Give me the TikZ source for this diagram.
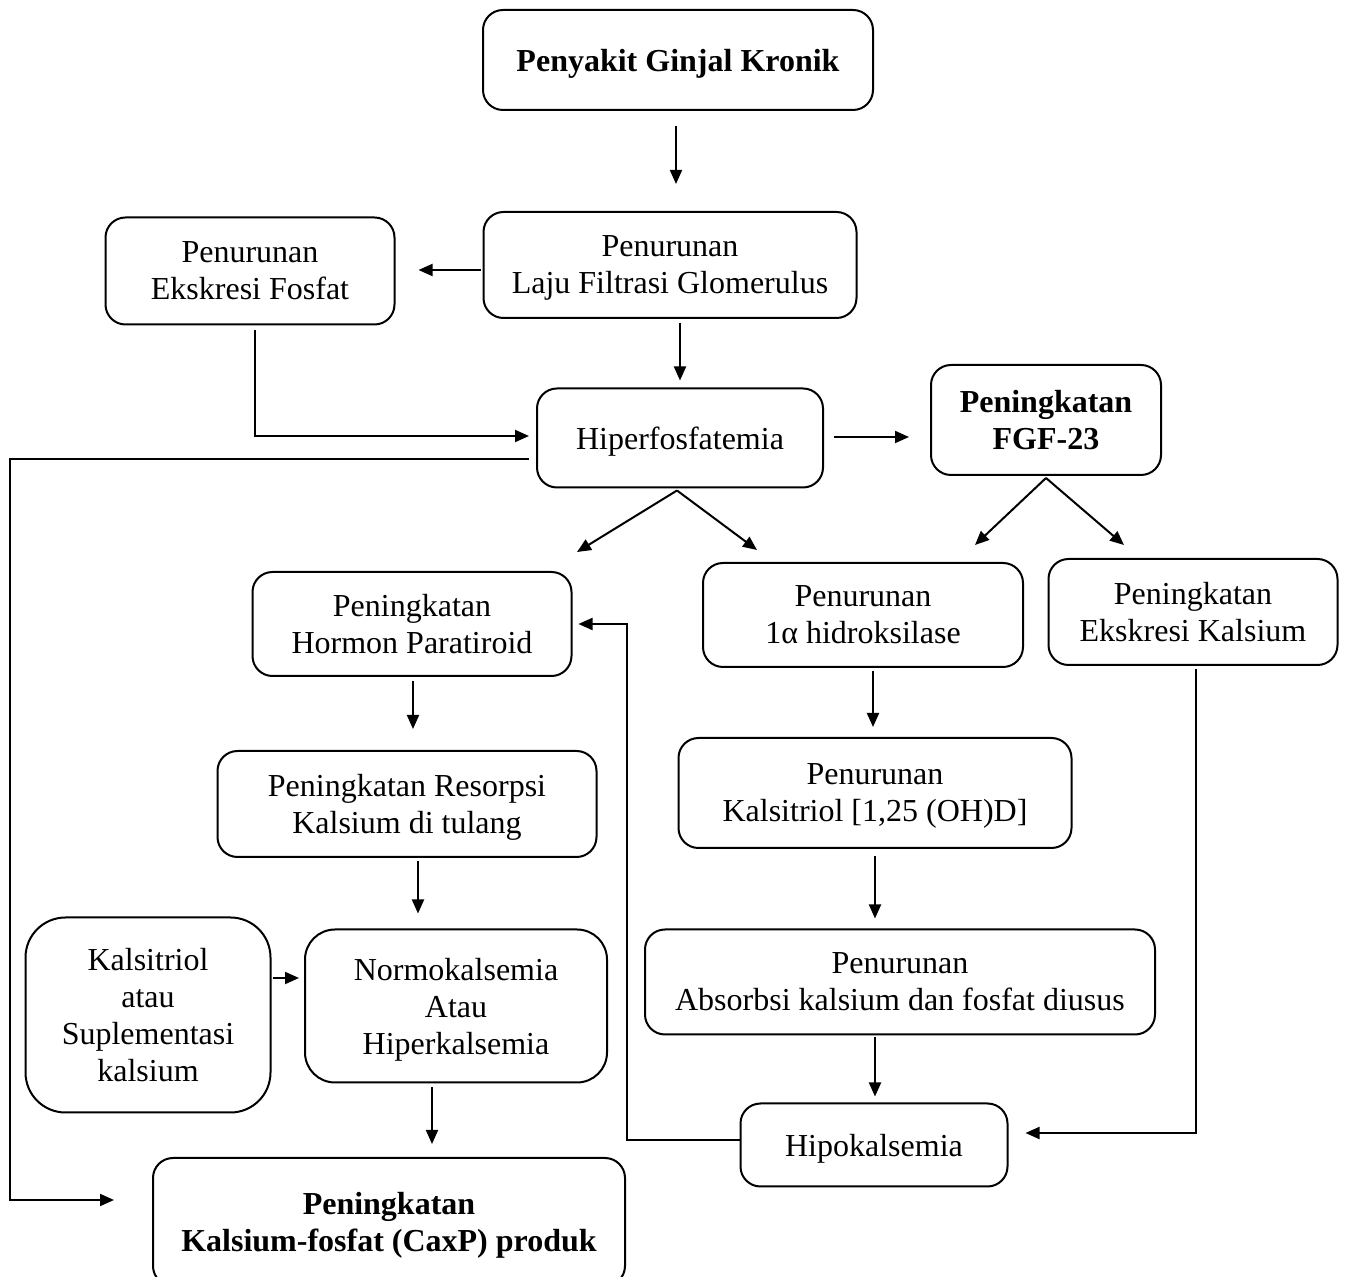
\documentclass[tikz,border=0pt]{standalone}
\usepackage{fontspec}
\setmainfont{Liberation Serif}
\usetikzlibrary{positioning, arrows.meta, calc}
\tikzset{every picture/.append style={thick}}

\begin{document}
\begin{tikzpicture}[x=0.5pt, y=-0.5pt,
    box/.style={draw, line width=1pt, rounded corners=10pt, align=center, inner sep=0pt, text depth=0pt, font=\fontsize{16}{18.5}\selectfont},
    bbox/.style={box, font=\fontsize{16}{18.5}\selectfont\bfseries},
    arr/.style={-{Triangle[length=7pt, width=6pt]}, line width=1pt}]
    \useasboundingbox (0,0) rectangle (1346,1277);

    % Boxes
    \node[bbox, minimum width=195pt, minimum height=50pt] (pgk) at (678,60) {Penyakit Ginjal Kronik};
    \node[box, minimum width=186.5pt, minimum height=53pt] (lfg) at (670,265) {Penurunan\\Laju Filtrasi Glomerulus};
    \node[box, minimum width=144.5pt, minimum height=53.5pt] (ekf) at (250,271) {Penurunan\\Ekskresi Fosfat};
    \node[box, minimum width=143pt, minimum height=49.5pt] (hpf) at (680,438) {Hiperfosfatemia};
    \node[bbox, minimum width=115pt, minimum height=55pt] (fgf) at (1046,420) {Peningkatan\\FGF-23};
    \node[box, minimum width=159.5pt, minimum height=52pt] (pth) at (412,624) {Peningkatan\\Hormon Paratiroid};
    \node[box, minimum width=160pt, minimum height=52pt] (hdx) at (863,615) {Penurunan\\1α hidroksilase};
    \node[box, minimum width=144.5pt, minimum height=53pt] (ekk) at (1193,612) {Peningkatan\\Ekskresi Kalsium};
    \node[box, minimum width=189.5pt, minimum height=53pt] (res) at (407,804) {Peningkatan Resorpsi\\Kalsium di tulang};
    \node[box, minimum width=196.5pt, minimum height=55pt] (ksl) at (875,793) {Penurunan\\Kalsitriol [1,25 (OH)D]};
    \node[box, rounded corners=20pt, minimum width=122.5pt, minimum height=97.5pt] (sup) at (148,1015) {Kalsitriol\\atau\\Suplementasi\\kalsium};
    \node[box, rounded corners=15pt, minimum width=151pt, minimum height=76.5pt] (nrm) at (456,1006) {Normokalsemia\\Atau\\Hiperkalsemia};
    \node[box, minimum width=255pt, minimum height=52.5pt] (abs) at (900,982) {Penurunan\\Absorbsi kalsium dan fosfat diusus};
    \node[box, minimum width=133.5pt, minimum height=41.5pt] (hpk) at (874,1145) {Hipokalsemia};
    \node[bbox, minimum width=236pt, minimum height=64pt] (cxp) at (389,1222) {Peningkatan\\Kalsium-fosfat (CaxP) produk};

    % Free ends and bends
    \coordinate (hpfL) at (577,552);
    \coordinate (hpfR) at (757,550);
    \coordinate (fgfL) at (975,545);
    \coordinate (fgfR) at (1124,545);
    \coordinate (lft) at (10,459);
    \coordinate (bnd) at (627,1140);

    % Arrows
    \draw[arr, shorten <=7.5pt, shorten >=13.5pt] ([xshift=-1pt]pgk.south) -- ([xshift=-1pt]pgk.south |- lfg.north);
    \draw[arr, shorten <=1pt, shorten >=11.5pt] ([yshift=-2.5pt]lfg.west) -- ([yshift=-2.5pt]lfg.west -| ekf.east);
    \draw[arr, shorten <=2pt, shorten >=3.5pt] (hpf.north |- lfg.south) -- (hpf.north);
    \draw[arr, shorten <=2.5pt, shorten >=3.5pt] ([xshift=2.5pt]ekf.south) |- ([yshift=1pt]hpf.west);
    \draw[arr, shorten <=5pt, shorten >=10.5pt] ([yshift=0.5pt]hpf.east) -- ([yshift=0.5pt]hpf.east -| fgf.west);
    \draw[arr, shorten <=3.5pt, shorten >=19pt] ([yshift=-10.5pt]hpf.west) -- (lft) |- ([yshift=11pt]cxp.west);
    \draw[arr] ([xshift=-1.5pt, yshift=-1pt]hpf.south) -- (hpfL);
    \draw[arr] ([xshift=-1.5pt, yshift=-1pt]hpf.south) -- (hpfR);
    \draw[arr] ([yshift=-1pt]fgf.south) -- (fgfL);
    \draw[arr] ([yshift=-1pt]fgf.south) -- (fgfR);
    \draw[arr, shorten <=2pt, shorten >=10.5pt] ([xshift=0.5pt]pth.south) -- ([xshift=0.5pt]pth.south |- res.north);
    \draw[arr, shorten <=1.5pt, shorten >=5pt] ([xshift=-1pt]ksl.north |- hdx.south) -- ([xshift=-1pt]ksl.north);
    \draw[arr, shorten <=1.5pt, shorten >=7.5pt] ([xshift=5.5pt]res.south) -- ([xshift=5.5pt]res.south |- nrm.north);
    \draw[arr, shorten <=0.5pt, shorten >=2.5pt] ([yshift=18.5pt]sup.east) -- ([yshift=18.5pt]sup.east -| nrm.west);
    \draw[arr, shorten <=3.5pt, shorten >=5pt] (ksl.south) -- (ksl.south |- abs.north);
    \draw[arr, shorten <=1pt, shorten >=3pt] ([xshift=0.5pt]hpk.north |- abs.south) -- ([xshift=0.5pt]hpk.north);
    \draw[arr, shorten <=2pt, shorten >=6.5pt] ([xshift=-12pt]nrm.south) -- ([xshift=-12pt]nrm.south |- cxp.north);
    \draw[arr, shorten <=1.5pt, shorten >=8.5pt] ([xshift=1.5pt]ekk.south) |- ([yshift=6pt]hpk.east);
    \draw[arr, shorten >=3pt] ([yshift=2.5pt]hpk.west) -- (bnd) |- (pth.east);
\end{tikzpicture}
\end{document}
